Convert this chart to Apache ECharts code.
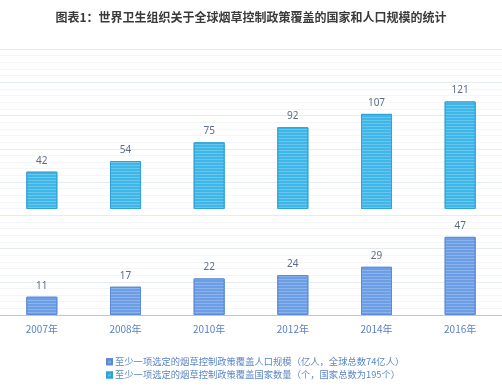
<!DOCTYPE html>
<html><head><meta charset="utf-8">
<script src="https://cdn.jsdelivr.net/npm/echarts@6/dist/echarts.min.js"></script>
<style>html,body{margin:0;padding:0;background:#fff}#c{width:502px;height:389px}</style>
</head><body><div id="c"></div>
<script>
const categories = ['2007年','2008年','2010年','2012年','2014年','2016年'];
const countries = [42, 54, 75, 92, 107, 121];
const population = [11, 17, 22, 24, 29, 47];
const nameCountries = '至少一项选定的烟草控制政策覆盖国家数量（个，国家总数为195个）';
const namePopulation = '至少一项选定的烟草控制政策覆盖人口规模（亿人，全球总数74亿人）';
const title = '图表1：世界卫生组织关于全球烟草控制政策覆盖的国家和人口规模的统计';

const stripe = {symbol:'rect', symbolSize:1, dashArrayX:[[1,0]], dashArrayY:[1,2], color:'rgba(255,255,255,0.22)'};
const labelStyle = {show:true, position:'top', distance:6, color:'#5d6b8c', fontSize:10, fontFamily:'Noto Sans'};

const chart = echarts.init(document.getElementById('c'));
chart.setOption({
  backgroundColor:'#fff',
  animation:false,
  title:{text:title, left:'center', top:6, textStyle:{fontSize:12, fontWeight:'bold', color:'#3a3a3a', fontFamily:'Noto Sans CJK SC'}},
  legend:{orient:'vertical', left:101, top:352, itemGap:4, itemWidth:5, itemHeight:5, icon:'rect',
    textStyle:{color:'#5b86c6', fontSize:9.3, fontFamily:'Noto Sans CJK SC', padding:[0,0,0,-2]},
    data:[namePopulation, nameCountries]},
  grid:[
    {left:0, right:0, top:49, height:266},
    {left:0, right:0, top:49, height:160}
  ],
  xAxis:[
    {type:'category', gridIndex:0, data:categories, axisTick:{show:false},
     axisLine:{lineStyle:{color:'#b8c6dc'}},
     axisLabel:{color:'#5b82c4', fontSize:10, margin:9, fontFamily:'Noto Sans CJK SC'}},
    {type:'category', gridIndex:1, data:categories, show:false}
  ],
  yAxis:[
    {type:'value', gridIndex:0, min:0, max:160, interval:20, axisLabel:{show:false}, axisLine:{show:false}, axisTick:{show:false},
     splitLine:{lineStyle:{color:'#e6eaf2'}},
     minorTick:{show:false, splitNumber:5},
     minorSplitLine:{show:true, lineStyle:{color:'#f3f5f9'}}},
    {type:'value', gridIndex:1, min:0, max:180, show:false, splitLine:{show:false}}
  ],
  series:[
    {name:namePopulation, type:'bar', xAxisIndex:0, yAxisIndex:0, data:population, barWidth:31,
     itemStyle:{color:'#6c9ee6', borderColor:'#5b8bd8', borderWidth:1, decal:stripe}, label:labelStyle},
    {name:nameCountries, type:'bar', xAxisIndex:1, yAxisIndex:1, data:countries, barWidth:31,
     itemStyle:{color:'#3fb6e8', borderColor:'#2ea3d6', borderWidth:1, decal:stripe}, label:labelStyle}
  ]
});
</script></body></html>
